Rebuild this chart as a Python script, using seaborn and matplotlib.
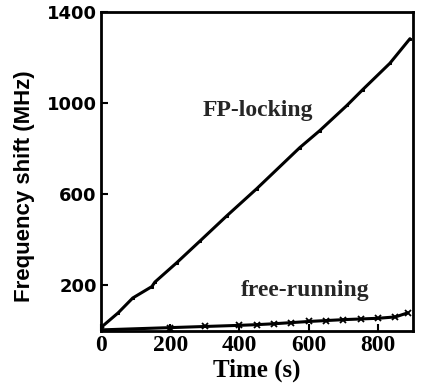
import pandas as pd
import seaborn as sns
import matplotlib.pyplot as plt

# FP-locking curve (time in s, shift in MHz)
fp_time = [0, 50, 92, 147, 156, 219, 286, 363, 450, 574, 632, 710, 756, 834, 892]
fp_shift = [15, 80, 145, 195, 215, 300, 395, 505, 625, 805, 880, 990, 1060, 1175, 1283]

# free-running curve
fr_time = [0, 200, 300, 400, 450, 500, 550, 600, 650, 700, 750, 800, 850, 886]
fr_shift = [5, 15, 20, 25, 28, 32, 37, 42, 46, 50, 53, 56, 62, 80]

x_ticks = [0, 200, 400, 600, 800]
y_ticks = [200, 600, 1000, 1400]

sns.set_style("ticks")
plt.rcParams['font.family'] = ['Liberation Serif', 'DejaVu Serif']

fig = plt.figure(figsize=(4.22, 3.89), dpi=100)
ax = fig.add_axes([0.239, 0.149, 0.739, 0.820])

df_fp = pd.DataFrame({"t": fp_time, "f": fp_shift})
df_fr = pd.DataFrame({"t": fr_time, "f": fr_shift})

sns.lineplot(data=df_fp, x="t", y="f", ax=ax, color="black", linewidth=2.2,
             marker="s", markersize=2, markeredgecolor="black")
sns.lineplot(data=df_fr, x="t", y="f", ax=ax, color="black", linewidth=2.2,
             marker="x", markersize=4, markeredgewidth=1.3, markeredgecolor="black")

ax.set_xlim(0, 900)
ax.set_ylim(0, 1395)
ax.set_xticks(x_ticks)
ax.set_yticks(y_ticks)
ax.tick_params(direction="in", length=5, width=1.5, colors="black", pad=3)
for lab in ax.get_yticklabels():
    lab.set_family(["DejaVu Sans"])
    lab.set_fontweight("bold")
    lab.set_fontsize(13)
for lab in ax.get_xticklabels():
    lab.set_fontweight("bold")
    lab.set_fontsize(17)
for s in ax.spines.values():
    s.set_linewidth(2)
    s.set_color("black")

ax.set_xlabel("Time (s)", fontsize=18, fontweight="bold", color="black", labelpad=2)
ax.set_ylabel("Frequency shift (MHz)", fontsize=16, family=["Liberation Sans", "DejaVu Sans"],
              fontweight="bold", color="black")
ax.yaxis.set_label_coords(-0.21, 0.455)

ax.text(452, 970, "FP-locking", fontsize=17, ha="center", va="center", fontweight="bold")
ax.text(590, 178, "free-running", fontsize=17, ha="center", va="center", fontweight="bold")

plt.savefig("out.png", dpi=100)
